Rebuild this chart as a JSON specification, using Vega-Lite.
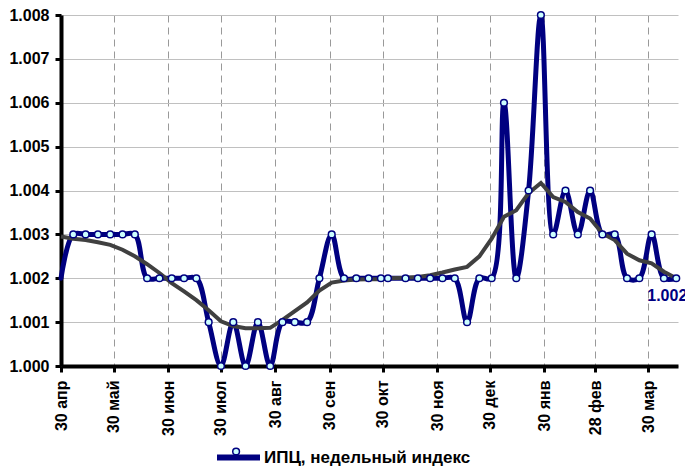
{
  "$schema": "https://vega.github.io/schema/vega-lite/v6.json",
  "autosize": {"type": "none"},
  "padding": {"left": 61, "top": 15, "right": 7, "bottom": 105},
  "width": 617,
  "height": 351,
  "background": "white",
  "config": {
    "view": {"stroke": null},
    "font": "Liberation Sans",
    "axis": {"labelFont": "Liberation Sans", "labelFontWeight": "bold", "labelFontSize": 16, "labelColor": "black"},
    "legend": {"labelFont": "Liberation Sans", "labelFontWeight": "bold", "labelFontSize": 17, "labelColor": "black", "labelLimit": 400}
  },
  "data": {
    "values": [
      {"d": "2010-04-30", "v": 1.002, "t": 1.00295},
      {"d": "2010-05-07", "v": 1.003, "t": 1.0029},
      {"d": "2010-05-14", "v": 1.003, "t": 1.00287},
      {"d": "2010-05-21", "v": 1.003, "t": 1.00282},
      {"d": "2010-05-28", "v": 1.003, "t": 1.00276},
      {"d": "2010-06-04", "v": 1.003, "t": 1.00265},
      {"d": "2010-06-11", "v": 1.003, "t": 1.0025},
      {"d": "2010-06-18", "v": 1.002, "t": 1.00232},
      {"d": "2010-06-25", "v": 1.002, "t": 1.00212},
      {"d": "2010-07-02", "v": 1.002, "t": 1.00189},
      {"d": "2010-07-09", "v": 1.002, "t": 1.0017},
      {"d": "2010-07-16", "v": 1.002, "t": 1.0015},
      {"d": "2010-07-23", "v": 1.001, "t": 1.00127},
      {"d": "2010-07-30", "v": 1.000, "t": 1.00102},
      {"d": "2010-08-06", "v": 1.001, "t": 1.00091},
      {"d": "2010-08-13", "v": 1.000, "t": 1.00086},
      {"d": "2010-08-20", "v": 1.001, "t": 1.00086},
      {"d": "2010-08-27", "v": 1.000, "t": 1.00087},
      {"d": "2010-09-03", "v": 1.001, "t": 1.00105},
      {"d": "2010-09-10", "v": 1.001, "t": 1.00125},
      {"d": "2010-09-17", "v": 1.001, "t": 1.00145},
      {"d": "2010-09-24", "v": 1.002, "t": 1.00172},
      {"d": "2010-10-01", "v": 1.003, "t": 1.0019},
      {"d": "2010-10-08", "v": 1.002, "t": 1.00195},
      {"d": "2010-10-15", "v": 1.002, "t": 1.00197},
      {"d": "2010-10-22", "v": 1.002, "t": 1.00198},
      {"d": "2010-10-29", "v": 1.002, "t": 1.00198},
      {"d": "2010-11-02", "v": 1.002, "t": 1.002},
      {"d": "2010-11-12", "v": 1.002, "t": 1.00201},
      {"d": "2010-11-19", "v": 1.002, "t": 1.00203},
      {"d": "2010-11-26", "v": 1.002, "t": 1.00207},
      {"d": "2010-12-03", "v": 1.002, "t": 1.00213},
      {"d": "2010-12-10", "v": 1.002, "t": 1.0022},
      {"d": "2010-12-17", "v": 1.001, "t": 1.00226},
      {"d": "2010-12-24", "v": 1.002, "t": 1.0025},
      {"d": "2010-12-31", "v": 1.002, "t": 1.0029},
      {"d": "2011-01-07", "v": 1.006, "t": 1.0034},
      {"d": "2011-01-14", "v": 1.002, "t": 1.00355},
      {"d": "2011-01-21", "v": 1.004, "t": 1.00394},
      {"d": "2011-01-28", "v": 1.008, "t": 1.00417},
      {"d": "2011-02-04", "v": 1.003, "t": 1.00385},
      {"d": "2011-02-11", "v": 1.004, "t": 1.00374},
      {"d": "2011-02-18", "v": 1.003, "t": 1.00351},
      {"d": "2011-02-25", "v": 1.004, "t": 1.00336},
      {"d": "2011-03-04", "v": 1.003, "t": 1.00302},
      {"d": "2011-03-11", "v": 1.003, "t": 1.00287},
      {"d": "2011-03-18", "v": 1.002, "t": 1.00256},
      {"d": "2011-03-25", "v": 1.002, "t": 1.00241},
      {"d": "2011-04-01", "v": 1.003, "t": 1.00234},
      {"d": "2011-04-08", "v": 1.002, "t": 1.00215},
      {"d": "2011-04-15", "v": 1.002, "t": 1.002}
    ]
  },
  "encoding": {
    "x": {
      "field": "d", "type": "temporal", "title": null,
      "scale": {"type": "utc", "domain": [{"year": 2010, "month": 4, "date": 30, "utc": true}, {"year": 2011, "month": 4, "date": 16, "utc": true}], "nice": false},
      "axis": {
        "values": [
          {"year": 2010, "month": 4, "date": 30, "utc": true},
          {"year": 2010, "month": 5, "date": 30, "utc": true},
          {"year": 2010, "month": 6, "date": 30, "utc": true},
          {"year": 2010, "month": 7, "date": 30, "utc": true},
          {"year": 2010, "month": 8, "date": 30, "utc": true},
          {"year": 2010, "month": 9, "date": 30, "utc": true},
          {"year": 2010, "month": 10, "date": 30, "utc": true},
          {"year": 2010, "month": 11, "date": 30, "utc": true},
          {"year": 2010, "month": 12, "date": 30, "utc": true},
          {"year": 2011, "month": 1, "date": 30, "utc": true},
          {"year": 2011, "month": 2, "date": 28, "utc": true},
          {"year": 2011, "month": 3, "date": 30, "utc": true}
        ],
        "labelExpr": "utcdate(datum.value) + ' ' + ['янв','фев','мар','апр','май','июн','июл','авг','сен','окт','ноя','дек'][utcmonth(datum.value)]",
        "labelAngle": 270,
        "labelPadding": 8,
        "grid": true, "gridColor": "#999999", "gridDash": [7, 5], "gridWidth": 1,
        "domainColor": "black", "domainWidth": 4,
        "tickColor": "black", "tickSize": 6, "tickWidth": 3
      }
    },
    "y": {
      "type": "quantitative", "title": null,
      "scale": {"domain": [1.0, 1.008], "nice": false, "zero": false},
      "axis": {
        "values": [1.0, 1.001, 1.002, 1.003, 1.004, 1.005, 1.006, 1.007, 1.008],
        "format": ".3f",
        "labelPadding": 6,
        "grid": true, "gridColor": "#c0c0c0", "gridWidth": 1,
        "domainColor": "black", "domainWidth": 4,
        "tickColor": "black", "tickSize": 6, "tickWidth": 3
      }
    }
  },
  "layer": [
    {
      "mark": {"type": "line", "interpolate": "catmull-rom", "strokeWidth": 5, "strokeCap": "round", "strokeJoin": "round"},
      "encoding": {
        "y": {"field": "v"},
        "color": {"datum": "ИПЦ, недельный индекс", "scale": {"range": ["#000080"]},
          "legend": {"title": null, "orient": "none", "legendX": 153, "legendY": 418, "symbolType": "stroke", "symbolSize": 1849, "symbolStrokeWidth": 6, "padding": 0, "labelOffset": 1}}
      }
    },
    {
      "mark": {"type": "line", "color": "#404040", "strokeWidth": 4},
      "encoding": {"y": {"field": "t"}}
    },
    {
      "transform": [{"filter": "!(utcyear(datum.d) == 2010 && utcmonth(datum.d) == 3)"}],
      "mark": {"type": "point", "filled": true, "stroke": "#000080", "strokeWidth": 1.5, "size": 45, "opacity": 1},
      "encoding": {
        "y": {"field": "v"},
        "fill": {"datum": " ", "scale": {"range": ["#ccffff"]},
          "legend": {"title": null, "orient": "none", "legendX": 170.6, "legendY": 432, "symbolType": "circle", "symbolSize": 45, "symbolStrokeColor": "#000080", "symbolStrokeWidth": 1.5, "padding": 0, "labelOpacity": 0, "labelFontSize": 4}}
      }
    },
    {
      "transform": [{"filter": "utcyear(datum.d) == 2011 && utcmonth(datum.d) == 3 && utcdate(datum.d) == 15"}],
      "mark": {"type": "text", "align": "left", "baseline": "alphabetic", "dx": -29, "dy": 23, "font": "Liberation Sans", "fontWeight": "bold", "fontSize": 16, "color": "#000080"},
      "encoding": {"y": {"field": "v"}, "text": {"field": "v", "format": ".3f"}}
    }
  ]
}
